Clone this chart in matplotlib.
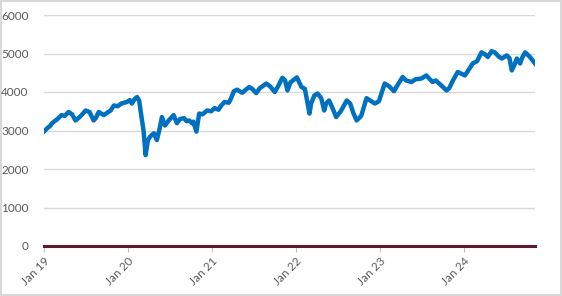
import matplotlib
matplotlib.use('Agg')
import matplotlib.pyplot as plt
import matplotlib.dates as mdates
import pandas as pd

plt.rcParams['font.family'] = ['Lato', 'DejaVu Sans']

# Index level at turning points and a few wiggles
dates = [
    '2019-01-02', '2019-01-15', '2019-01-28', '2019-02-05', '2019-02-18', '2019-03-01',
    '2019-03-18', '2019-04-01', '2019-04-18', '2019-05-03', '2019-05-18', '2019-06-05',
    '2019-06-18', '2019-07-01', '2019-07-18', '2019-08-05', '2019-08-15', '2019-08-27',
    '2019-09-18', '2019-10-05', '2019-10-18', '2019-11-01', '2019-11-18', '2019-12-03',
    '2019-12-27', '2020-01-10', '2020-01-18', '2020-01-31', '2020-02-10', '2020-02-19',
    '2020-02-27', '2020-03-09', '2020-03-18', '2020-03-28', '2020-04-08', '2020-04-23',
    '2020-05-06', '2020-05-18', '2020-05-28', '2020-06-10', '2020-06-25', '2020-07-18',
    '2020-08-01', '2020-08-15', '2020-09-02', '2020-09-12', '2020-09-24', '2020-10-06',
    '2020-10-12', '2020-10-25', '2020-11-06', '2020-11-20', '2020-12-11', '2020-12-28',
    '2021-01-12', '2021-01-29', '2021-02-10', '2021-02-24', '2021-03-15', '2021-03-25',
    '2021-04-06', '2021-04-20', '2021-05-12', '2021-05-26', '2021-06-12', '2021-06-25',
    '2021-07-12', '2021-07-28', '2021-08-25', '2021-09-10', '2021-10-01', '2021-10-18',
    '2021-11-03', '2021-11-15', '2021-11-25', '2021-12-08', '2021-12-25', '2022-01-05',
    '2022-01-25', '2022-02-09', '2022-03-01', '2022-03-08', '2022-03-22', '2022-04-05',
    '2022-04-21', '2022-05-04', '2022-05-12', '2022-05-25', '2022-06-08', '2022-06-25',
    '2022-07-15', '2022-08-10', '2022-08-25', '2022-09-08', '2022-09-22', '2022-10-12',
    '2022-11-04', '2022-11-20', '2022-12-10', '2022-12-28', '2023-01-22', '2023-02-10',
    '2023-03-04', '2023-03-14', '2023-04-10', '2023-04-25', '2023-05-19', '2023-06-05',
    '2023-07-01', '2023-07-22', '2023-08-18', '2023-09-01', '2023-09-20', '2023-10-18',
    '2023-10-30', '2023-11-15', '2023-12-06', '2023-12-20', '2024-01-06', '2024-01-25',
    '2024-02-09', '2024-02-28', '2024-03-18', '2024-04-02', '2024-04-15', '2024-05-01',
    '2024-05-15', '2024-06-01', '2024-06-15', '2024-07-06', '2024-07-18', '2024-07-28',
    '2024-08-08', '2024-08-19', '2024-09-02', '2024-09-12', '2024-09-24', '2024-10-15',
    '2024-11-06',
]
values = [
    2980, 3060, 3120, 3190, 3250, 3300,
    3400, 3380, 3480, 3420, 3260, 3350,
    3430, 3520, 3480, 3260, 3330, 3480,
    3400, 3470, 3520, 3650, 3630, 3700,
    3740, 3790, 3700, 3820, 3870, 3780,
    3440, 3000, 2360, 2750, 2850, 2930,
    2750, 3050, 3350, 3130, 3250, 3400,
    3190, 3300, 3320, 3240, 3260, 3190,
    3230, 2970, 3440, 3420, 3520, 3500,
    3580, 3540, 3650, 3740, 3720, 3840,
    4020, 4060, 3980, 4050, 4130, 4080,
    3970, 4100, 4220, 4150, 4000, 4180,
    4370, 4300, 4040, 4250, 4330, 4380,
    4130, 4080, 3440, 3700, 3910, 3960,
    3840, 3520, 3700, 3780, 3600, 3350,
    3500, 3780, 3700, 3450, 3260, 3380,
    3840, 3780, 3700, 3760, 4220, 4150,
    4020, 4130, 4390, 4300, 4260, 4330,
    4350, 4430, 4260, 4300, 4200, 4040,
    4100, 4300, 4520, 4480, 4430, 4600,
    4740, 4800, 5030, 4980, 4910, 5060,
    5030, 4920, 4870, 4950, 4880, 4560,
    4700, 4870, 4740, 4900, 5030, 4910,
    4740,
]

x = pd.to_datetime(dates)

fig = plt.figure(figsize=(5.62, 2.96), dpi=100)
fig.patch.set_edgecolor('#d9d9d9')
fig.patch.set_linewidth(1.5)
ax = fig.add_axes([44 / 562, 1 - 246 / 296, (535 - 44) / 562, (246 - 15) / 296])

ax.plot(x, values, color='#0070C0', linewidth=3.2, solid_joinstyle='round')
ax.axhline(0, color='#5c1a2b', linewidth=2.2, zorder=3, clip_on=False)

ax.set_ylim(0, 6000)
ax.set_yticks(range(0, 6001, 1000))
ax.set_xlim(pd.Timestamp('2019-01-01'), pd.Timestamp('2024-11-06'))
ax.xaxis.set_major_locator(mdates.YearLocator())
ax.xaxis.set_major_formatter(mdates.DateFormatter('Jan %y'))

ax.grid(axis='y', color='#d9d9d9', linewidth=1)
ax.set_axisbelow(True)
for s in ax.spines.values():
    s.set_visible(False)

ax.tick_params(axis='y', length=0, pad=11, labelsize=8.5, labelcolor='#595959')
ax.tick_params(axis='x', length=4, width=0.8, color='#bfbfbf', pad=3,
               labelsize=8.5, labelcolor='#595959')
for lab in ax.get_xticklabels():
    lab.set_rotation(45)
    lab.set_ha('right')
    lab.set_rotation_mode('anchor')

fig.savefig('out.png', dpi=100)
